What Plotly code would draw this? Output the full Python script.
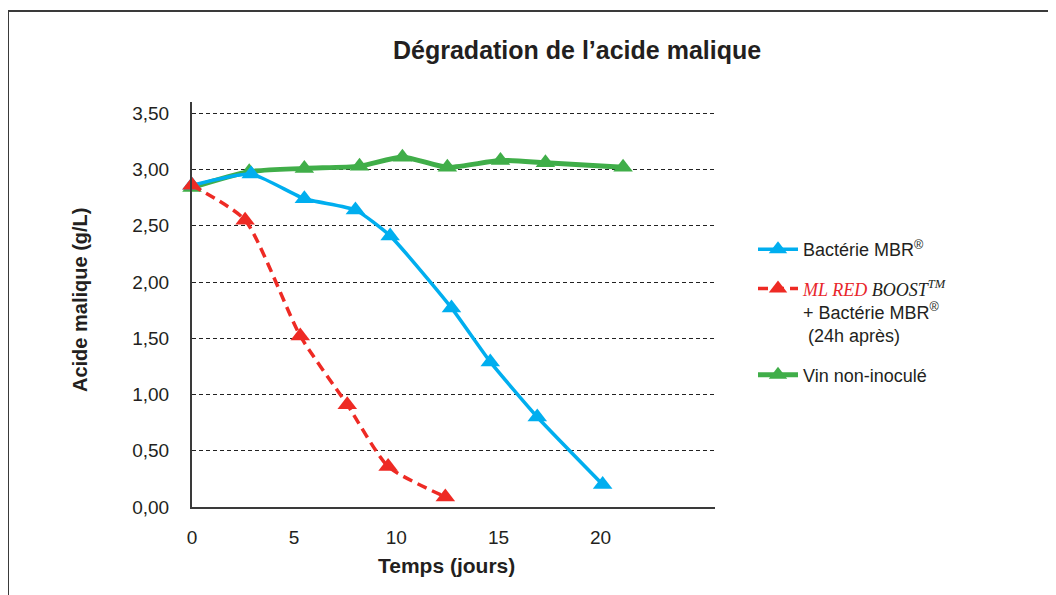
import plotly.graph_objects as go

# ---- data ----
days_mbr = [0, 2.9, 5.5, 8.0, 9.7, 12.7, 14.6, 16.9, 20.1]
malic_mbr = [2.86, 2.96, 2.74, 2.64, 2.41, 1.77, 1.29, 0.80, 0.20]

days_boost = [0, 2.6, 5.3, 7.6, 9.6, 12.4]
malic_boost = [2.86, 2.55, 1.52, 0.91, 0.36, 0.09]

days_vin = [0, 2.8, 5.5, 8.2, 10.3, 12.5, 15.1, 17.3, 21.1]
malic_vin = [2.84, 2.98, 3.01, 3.03, 3.11, 3.02, 3.08, 3.06, 3.02]

y_ticks = [0, 0.5, 1.0, 1.5, 2.0, 2.5, 3.0, 3.5]
y_ticktext = ["0,00", "0,50", "1,00", "1,50", "2,00", "2,50", "3,00", "3,50"]
x_ticks = [0, 5, 10, 15, 20]
x_ticktext = ["0", "5", "10", "15", "20"]

name_mbr = "Bactérie MBR<sup>®</sup>"
name_boost = ("<span style='font-family:Liberation Serif;font-style:italic;color:#E8262B'>ML RED</span>"
              "<span style='font-family:Liberation Serif;font-style:italic;color:#231F20'> BOOST<sup>TM</sup></span>"
              "<br>+ Bactérie MBR<sup>®</sup><br> (24h après)")
name_vin = "Vin non-inoculé"

BLUE = "#00AEEF"
RED = "#EE2A24"
GREEN = "#40AE49"
TXT = "#231F20"

# the page body has an 8px margin: work in screen pixels and shift by it
OFF = 8
W, H = 1056 - OFF, 595 - OFF
L, R, T, B = 192, 715, 102, 507  # screen pixels of the plot area
PW, PH = R - L, B - T


def px(x):
    return (x - L) / PW


def py(y):
    return (B - y) / PH


fig = go.Figure()

fig.add_trace(go.Scatter(
    x=days_vin, y=malic_vin, name=name_vin, mode="lines+markers",
    line=dict(color=GREEN, width=5, shape="spline", smoothing=0.7),
    marker=dict(symbol="triangle-up", size=17, color=GREEN),
    legendrank=3, legendgroup="c", cliponaxis=False))

fig.add_trace(go.Scatter(
    x=days_mbr, y=malic_mbr, name=name_mbr, mode="lines+markers",
    line=dict(color=BLUE, width=3.5, shape="spline", smoothing=0.5),
    marker=dict(symbol="triangle-up", size=17, color=BLUE),
    legendrank=1, legendgroup="a", cliponaxis=False))

fig.add_trace(go.Scatter(
    x=days_boost, y=malic_boost, name=name_boost, mode="lines+markers",
    line=dict(color=RED, width=3.5, dash="10px,6px", shape="spline", smoothing=0.6),
    marker=dict(symbol="triangle-up", size=17, color=RED),
    legendrank=2, legendgroup="b", cliponaxis=False))

fig.update_layout(
    width=W, height=H,
    margin=dict(l=L - OFF, r=W - (R - OFF), t=T - OFF, b=H - (B - OFF), pad=0),
    paper_bgcolor="white", plot_bgcolor="white",
    font=dict(family="Liberation Sans, Arial, sans-serif", color=TXT, size=16),
    showlegend=True,
    legend=dict(x=px(753), y=py(231), xanchor="left", yanchor="top",
                font=dict(size=18, color=TXT), valign="top",
                tracegroupgap=13, itemwidth=40, bgcolor="rgba(0,0,0,0)",
                traceorder="grouped"),
    xaxis=dict(range=[0, 25.6], tickvals=x_ticks, ticktext=x_ticktext,
               showgrid=False, zeroline=False, showline=True, linecolor="#3a3a3a",
               linewidth=2, ticks="", ticklabelstandoff=12,
               tickfont=dict(size=19, color=TXT)),
    yaxis=dict(range=[0, 3.6], tickvals=y_ticks, ticktext=y_ticktext,
               showgrid=True, gridcolor="#222222", gridwidth=1, griddash="4px,3px",
               zeroline=False, showline=True, linecolor="#3a3a3a", linewidth=2,
               ticks="", ticklabelstandoff=17,
               tickfont=dict(size=19, color=TXT)),
    annotations=[
        dict(text="<b>Dégradation de l’acide malique</b>", xref="paper", yref="paper",
             x=px(577), y=py(50), xanchor="center", yanchor="middle", showarrow=False,
             font=dict(size=25, color=TXT)),
        dict(text="<b>Temps (jours)</b>", xref="paper", yref="paper",
             x=px(446), y=py(565), xanchor="center", yanchor="middle", showarrow=False,
             font=dict(size=21, color=TXT)),
        dict(text="<b>Acide malique (g/L)</b>", xref="paper", yref="paper",
             x=px(80), y=py(300), xanchor="center", yanchor="middle", showarrow=False,
             textangle=-90, font=dict(size=20, color=TXT)),
    ],
    shapes=[
        dict(type="line", xref="paper", yref="paper", x0=px(8), x1=px(1060),
             y0=py(11), y1=py(11), line=dict(color="#3a3a3a", width=2)),
        dict(type="line", xref="paper", yref="paper", x0=px(8), x1=px(8),
             y0=py(11), y1=py(600), line=dict(color="#3a3a3a", width=2)),
    ],
)

fig.write_html("out.html")
